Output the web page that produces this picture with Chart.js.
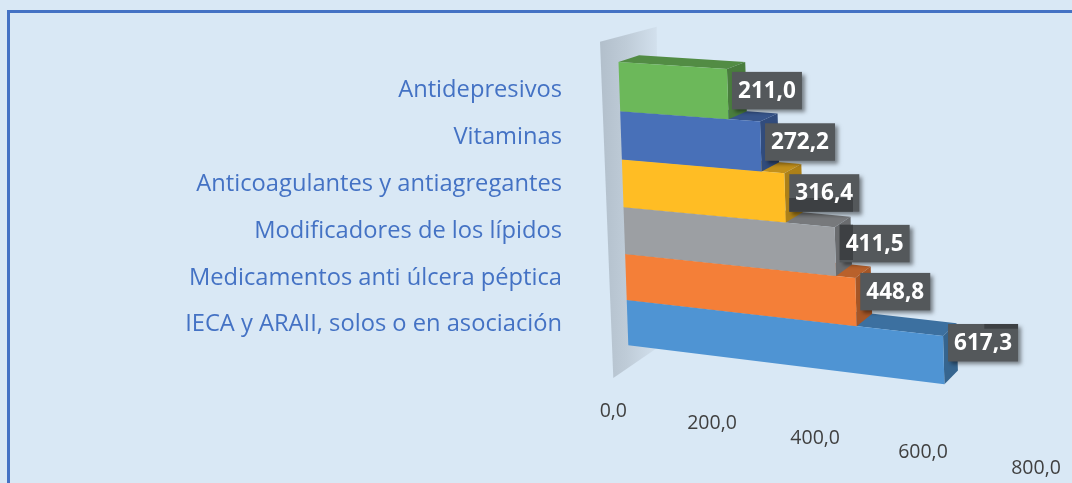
<!DOCTYPE html>
<html>
<head>
<meta charset="utf-8">
<style>
    html, body { margin: 0; padding: 0; width: 1072px; height: 483px; overflow: hidden; background: #d9e8f5; }
    .frame { position: absolute; left: 7px; top: 10px; width: 2000px; height: 2000px; border-left: 3px solid #4472c4; border-top: 3px solid #4472c4; }
    .chart-box { position: absolute; left: 0; top: 0; width: 1072px; height: 483px; }
</style>
<script src="https://cdn.jsdelivr.net/npm/chart.js@4/dist/chart.umd.min.js"></script>
</head>
<body>
<div class="frame"></div>
<div class="chart-box"><canvas id="chartDrugs" width="1072" height="483"></canvas></div>
<script>
const categories = [
    "Antidepresivos",
    "Vitaminas",
    "Anticoagulantes y antiagregantes",
    "Modificadores de los lípidos",
    "Medicamentos anti úlcera péptica",
    "IECA y ARAII, solos o en asociación"
];
const values = [211.0, 272.2, 316.4, 411.5, 448.8, 617.3];
const barColors = ["#6cb85a", "#4870b8", "#ffbd24", "#9c9fa3", "#f47f38", "#4f94d3"];
const tickValues = [0, 200, 400, 600, 800];

// where the plot rectangle ends up on screen once tilted
const quad = [[618.5, 62], [1029.7, 88.5], [1038, 395.9], [628.3, 345.3]];
const vanish = [1557, -246];
const depth = 0.022;
const bandBulge = 0.05;
const tickShiftX = [-15, -18.7, -18, -12.6, -2];
const tickShiftY = [66, 65, 67.4, 69.6, 72.5];
const labelShiftY = [-3.5, -4.5, -5, -8, -10.5, -17.5];

function format(v) {
    return v.toFixed(1).replace(".", ",");
}

function makeProjection(area) {
    const [p0, p1, p2, p3] = quad;
    return function(x, y) {
        const u = (x - area.left) / (area.right - area.left);
        let v = (y - area.top) / (area.bottom - area.top);
        v = v + bandBulge * v * (1 - v);
        const topX = p0[0] + (p1[0] - p0[0]) * u, topY = p0[1] + (p1[1] - p0[1]) * u;
        const botX = p3[0] + (p2[0] - p3[0]) * u, botY = p3[1] + (p2[1] - p3[1]) * u;
        return [topX + (botX - topX) * v, topY + (botY - topY) * v];
    };
}

function toBack(p) {
    return [p[0] + depth * (vanish[0] - p[0]), p[1] + depth * (vanish[1] - p[1])];
}

function shade(hex, f) {
    const n = parseInt(hex.slice(1), 16);
    const r = Math.round((n >> 16) * f), g = Math.round(((n >> 8) & 255) * f), b = Math.round((n & 255) * f);
    return `rgb(${r},${g},${b})`;
}

function poly(ctx, pts, color) {
    ctx.beginPath();
    pts.forEach((p, i) => i ? ctx.lineTo(p[0], p[1]) : ctx.moveTo(p[0], p[1]));
    ctx.closePath();
    ctx.fillStyle = color;
    ctx.fill();
}

function drawWall(ctx) {
    const grad = ctx.createLinearGradient(600, 0, 660, 0);
    grad.addColorStop(0, "#b2bfcb");
    grad.addColorStop(0.45, "#bfccd8");
    grad.addColorStop(1, "#d4e2ef");
    poly(ctx, [[600, 41.7], [656.7, 26.7], [660, 346], [613.3, 378]], grad);
}

function drawLabel(ctx, text, x, y, patch) {
    const w = 70, h = 37.5;
    const left = x, top = y - h / 2;
    ctx.save();
    ctx.shadowColor = "rgba(0,0,0,0.45)";
    ctx.shadowBlur = 4;
    ctx.shadowOffsetX = 3;
    ctx.shadowOffsetY = 3;
    ctx.fillStyle = "#54585b";
    ctx.fillRect(left, top, w, h);
    ctx.restore();
    if (patch) {
        ctx.save();
        ctx.beginPath();
        ctx.rect(left, top, w, h);
        ctx.clip();
        ctx.fillStyle = "#3d4043";
        ctx.fillRect(patch[0], patch[1], patch[2], patch[3]);
        ctx.restore();
    }
    ctx.fillStyle = "#ffffff";
    ctx.font = "bold 22.5px 'Open Sans'";
    ctx.textAlign = "center";
    ctx.textBaseline = "middle";
    ctx.fillText(text, left + w / 2, y + 1);
}

const tiltedBars = {
    id: "tiltedBars",
    beforeDatasetsDraw(chart) {
        const ctx = chart.ctx;
        const project = makeProjection(chart.chartArea);
        const meta = chart.getDatasetMeta(0);
        const scaleX = chart.scales.x;

        drawWall(ctx);

        // lowest bar first, the bar above hides the part of its top face it sits on
        meta.data.slice().reverse().forEach((bar, n) => {
            const i = meta.data.length - 1 - n;
            const top = bar.y - bar.height / 2;
            const bottom = bar.y + bar.height / 2;
            const a = project(bar.base, top);
            const b = project(bar.x, top);
            const c = project(bar.x, bottom);
            const d = project(bar.base, bottom);
            poly(ctx, [a, b, toBack(b), toBack(a)], shade(barColors[i], 0.76));
            poly(ctx, [b, c, toBack(c), toBack(b)], shade(barColors[i], 0.68));
            poly(ctx, [a, b, c, d], barColors[i]);
        });

        // tick labels follow the tilted bottom edge
        ctx.fillStyle = "#404040";
        ctx.font = "19.5px 'Open Sans'";
        ctx.textAlign = "center";
        ctx.textBaseline = "middle";
        scaleX.ticks.forEach((tick, i) => {
            const p = project(scaleX.getPixelForValue(tick.value), chart.chartArea.bottom);
            ctx.fillText(format(tick.value), p[0] + tickShiftX[i], p[1] + tickShiftY[i]);
        });

        const patches = [null, null, [789, 198, 64, 62], [789, 198, 64, 62], null, [984.3, 323, 36, 5.7]];
        meta.data.forEach((bar, i) => {
            const top = project(bar.x, bar.y - bar.height / 2);
            const bottom = project(bar.x, bar.y + bar.height / 2);
            drawLabel(ctx, format(values[i]), top[0] + 5, (top[1] + bottom[1]) / 2 + labelShiftY[i], patches[i]);
        });
        return false;
    }
};

new Chart(document.getElementById("chartDrugs"), {
    type: "bar",
    data: {
        labels: categories,
        datasets: [{
            data: values,
            backgroundColor: barColors,
            categoryPercentage: 1,
            barPercentage: 1,
        }]
    },
    options: {
        indexAxis: "y",
        responsive: false,
        animation: false,
        layout: {
            padding: { top: 67.2, right: 44, bottom: 135, left: 0 }
        },
        plugins: {
            legend: { display: false },
            tooltip: { enabled: false },
        },
        scales: {
            x: {
                display: false,
                min: 0,
                max: 800,
                afterBuildTicks(scale) {
                    scale.ticks = tickValues.map(v => ({ value: v }));
                },
            },
            y: {
                grid: { display: false },
                border: { display: false },
                afterFit(scale) {
                    scale.width = 618;
                },
                ticks: {
                    color: "#4472c4",
                    padding: 48,
                    font: { family: "'Open Sans'", size: 23.7 },
                },
            },
        },
    },
    plugins: [tiltedBars],
});
</script>
</body>
</html>
